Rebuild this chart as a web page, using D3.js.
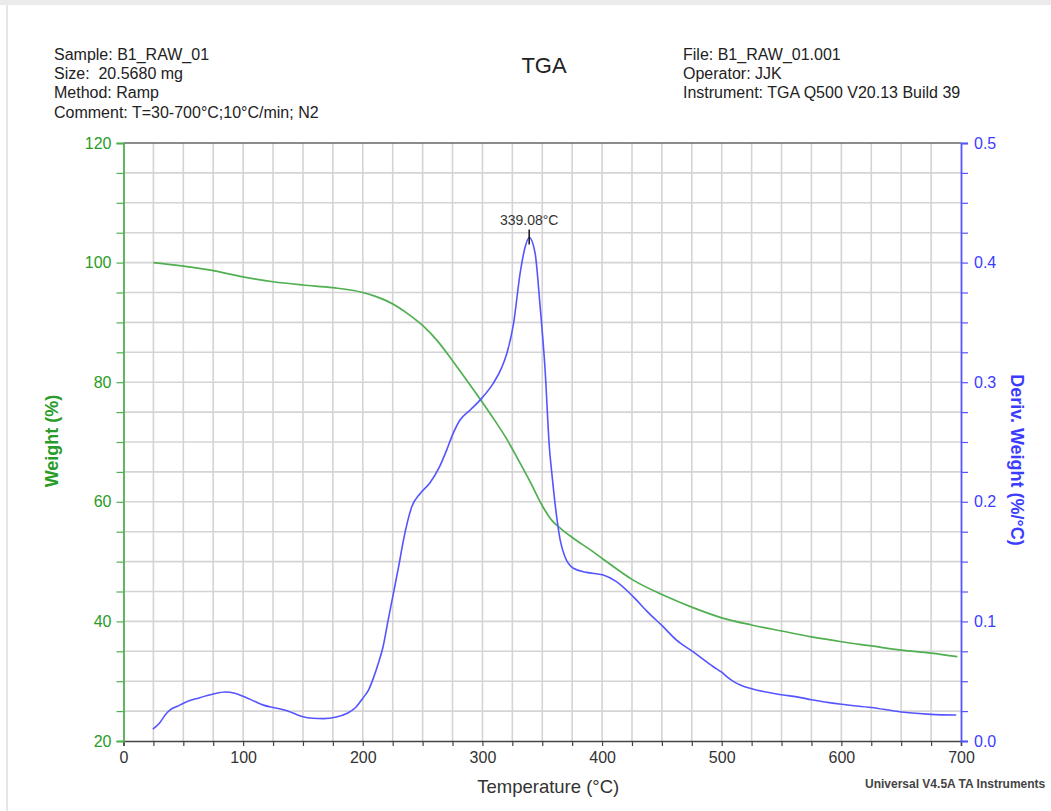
<!DOCTYPE html>
<html>
<head>
<meta charset="utf-8">
<script src="https://cdn.jsdelivr.net/npm/d3@7"></script>
<style>
  html, body { margin: 0; padding: 0; background: #fff; }
  svg { display: block; font-family: "Liberation Sans", Arial, sans-serif; }
  text { white-space: pre; }
</style>
</head>
<body>
<svg id="chart" width="1051" height="811"></svg>
<script>
// ---- data ----
const headerLeft = ["Sample: B1_RAW_01", "Size:  20.5680 mg", "Method: Ramp", "Comment: T=30-700°C;10°C/min; N2"];
const headerRight = ["File: B1_RAW_01.001", "Operator: JJK", "Instrument: TGA Q500 V20.13 Build 39"];
const chartTitle = "TGA";
const footer = "Universal V4.5A TA Instruments";

const weightTemp = [25, 50, 75, 100, 125, 150, 175, 200, 210, 220, 230, 240, 250, 262, 275, 287, 298, 310, 320, 330, 340, 351, 358, 365, 376, 390, 401, 426, 451, 476, 500, 525, 550, 575, 600, 625, 650, 675, 697];
const weightPct  = [100, 99.4, 98.65, 97.6, 96.8, 96.25, 95.8, 95.0, 94.4, 93.6, 92.5, 91.1, 89.5, 87.0, 83.6, 80.3, 77.2, 73.7, 70.6, 67.0, 63.3, 59.0, 56.9, 55.6, 53.9, 52.0, 50.4, 46.9, 44.4, 42.3, 40.6, 39.4, 38.4, 37.4, 36.6, 35.9, 35.2, 34.7, 34.1];

const derivTemp = [24.5, 30, 35, 39, 45, 51, 63, 75, 85, 93, 101, 110, 117, 125, 132, 139, 145, 150, 158, 167, 177, 187, 194, 200, 205, 209, 213, 217, 221, 225.6, 230, 234, 241, 248, 256, 264, 270, 275, 281, 290, 298, 309, 316, 320.4, 326, 331.5, 335.7, 339.08, 344, 348, 352.4, 356, 358, 361, 365, 369, 376, 387, 401, 412, 426, 438, 451, 462, 476, 493, 500, 505, 510, 516, 525, 550, 565, 575, 600, 625, 650, 675, 696];
const derivVal  = [0.010, 0.0148, 0.022, 0.026, 0.029, 0.032, 0.036, 0.0393, 0.041, 0.040, 0.037, 0.033, 0.030, 0.028, 0.0265, 0.0245, 0.022, 0.0203, 0.019, 0.0187, 0.0198, 0.0232, 0.028, 0.0357, 0.043, 0.053, 0.065, 0.079, 0.100, 0.1235, 0.146, 0.168, 0.196, 0.207, 0.2157, 0.229, 0.243, 0.256, 0.268, 0.277, 0.285, 0.299, 0.312, 0.324, 0.349, 0.391, 0.413, 0.421, 0.408, 0.366, 0.310, 0.245, 0.224, 0.196, 0.168, 0.154, 0.1444, 0.141, 0.1388, 0.1333, 0.1207, 0.108, 0.0956, 0.0845, 0.0747, 0.0621, 0.0575, 0.0532, 0.0497, 0.0467, 0.0437, 0.0387, 0.0365, 0.0345, 0.0307, 0.0280, 0.0243, 0.0223, 0.0217];

const peakTemp = 339.08;
const peakVal = 0.421;
const peakLabel = "339.08°C";

const xTickLabels = [0, 100, 200, 300, 400, 500, 600, 700];
const yLeftTickLabels = [20, 40, 60, 80, 100, 120];
const yRightTickLabels = [0.0, 0.1, 0.2, 0.3, 0.4, 0.5];

// ---- layout ----
const svg = d3.select("#chart");
const W = 1051, H = 811;
const plot = { left: 123.5, right: 961, top: 143, bottom: 741 };

const green = "rgb(80,175,80)";
const greenText = "rgb(40,155,40)";
const blue = "rgb(85,85,255)";
const blueText = "rgb(60,60,255)";

// frame
svg.append("rect").attr("x", 0).attr("y", 0).attr("width", W).attr("height", H).attr("fill", "#fff");
svg.append("rect").attr("x", 0).attr("y", 0).attr("width", W).attr("height", 5).attr("fill", "#ebebeb");
svg.append("line").attr("x1", 7).attr("x2", 7).attr("y1", 5).attr("y2", H).attr("stroke", "#e6e6e6").attr("stroke-width", 2);

const x = d3.scaleLinear().domain([0, 700]).range([plot.left, plot.right]);
const yL = d3.scaleLinear().domain([20, 120]).range([plot.bottom, plot.top]);
const yR = d3.scaleLinear().domain([0, 0.5]).range([plot.bottom, plot.top]);

const xMinor = d3.range(0, 701, 25);
const yLMinor = d3.range(20, 121, 5);
const yRMinor = d3.range(0, 0.5001, 0.025);

// grid
const grid = svg.append("g").attr("stroke", "#d4d4d4").attr("stroke-width", 1.6);
xMinor.filter(v => v > 0 && v < 700).forEach(v => {
  grid.append("line").attr("x1", x(v)).attr("x2", x(v)).attr("y1", plot.top).attr("y2", plot.bottom);
});
yLMinor.filter(v => v > 20 && v < 120).forEach(v => {
  grid.append("line").attr("x1", plot.left).attr("x2", plot.right).attr("y1", yL(v)).attr("y2", yL(v));
});

// top border
svg.append("line").attr("x1", plot.left).attr("x2", plot.right).attr("y1", plot.top).attr("y2", plot.top)
  .attr("stroke", "#666").attr("stroke-width", 1.5);

// x axis
const xAxis = d3.axisBottom(x).tickValues(xMinor).tickSize(5).tickPadding(6)
  .tickFormat(d => xTickLabels.includes(d) ? String(d) : "");
const gx = svg.append("g").attr("transform", `translate(0,${plot.bottom})`).call(xAxis);
gx.select(".domain").attr("stroke", "#444").attr("stroke-width", 1.5);
gx.selectAll(".tick line").attr("stroke", "#444").attr("stroke-width", 1.2);
gx.selectAll(".tick text").attr("fill", "#333").attr("font-size", 16).attr("font-family", "Liberation Sans, Arial, sans-serif");

// left axis
const yLAxis = d3.axisLeft(yL).tickValues(yLMinor).tickSize(7).tickPadding(5)
  .tickFormat(d => yLeftTickLabels.includes(d) ? String(d) : "");
const gyl = svg.append("g").attr("transform", `translate(${plot.left},0)`).call(yLAxis);
gyl.select(".domain").attr("stroke", green).attr("stroke-width", 1.8);
gyl.selectAll(".tick line").attr("stroke", green).attr("stroke-width", 1.2);
gyl.selectAll(".tick text").attr("fill", greenText).attr("font-size", 16).attr("font-family", "Liberation Sans, Arial, sans-serif");

// right axis
const yRAxis = d3.axisRight(yR).tickValues(yRMinor).tickSize(7).tickPadding(6)
  .tickFormat(d => yRightTickLabels.some(v => Math.abs(v - d) < 1e-9) ? d3.format(".1f")(d) : "");
const gyr = svg.append("g").attr("transform", `translate(${plot.right},0)`).call(yRAxis);
gyr.select(".domain").attr("stroke", blue).attr("stroke-width", 1.8);
gyr.selectAll(".tick line").attr("stroke", blue).attr("stroke-width", 1.2);
gyr.selectAll(".tick text").attr("fill", blueText).attr("font-size", 16).attr("font-family", "Liberation Sans, Arial, sans-serif");

// curves
const weightData = weightTemp.map((t, i) => [t, weightPct[i]]);
const derivData = derivTemp.map((t, i) => [t, derivVal[i]]);

svg.append("path").datum(weightData)
  .attr("d", d3.line().x(d => x(d[0])).y(d => yL(d[1])).curve(d3.curveMonotoneX))
  .attr("fill", "none").attr("stroke", green).attr("stroke-width", 1.7);

svg.append("path").datum(derivData)
  .attr("d", d3.line().x(d => x(d[0])).y(d => yR(d[1])).curve(d3.curveMonotoneX))
  .attr("fill", "none").attr("stroke", blue).attr("stroke-width", 1.6);

// peak annotation
svg.append("line").attr("x1", x(peakTemp)).attr("x2", x(peakTemp))
  .attr("y1", yR(peakVal) - 8).attr("y2", yR(peakVal) + 7)
  .attr("stroke", "#111").attr("stroke-width", 1.5);
svg.append("text").attr("x", x(peakTemp)).attr("y", yR(peakVal) - 12)
  .attr("text-anchor", "middle").attr("font-size", 14).attr("fill", "#333").text(peakLabel);

// headers
const hdrY = [60, 79, 98, 118];
headerLeft.forEach((t, i) => {
  svg.append("text").attr("x", 54).attr("y", hdrY[i]).attr("font-size", 16).attr("fill", "#222")
    .attr("xml:space", "preserve").text(t);
});
headerRight.forEach((t, i) => {
  svg.append("text").attr("x", 683).attr("y", hdrY[i]).attr("font-size", 16).attr("fill", "#222").text(t);
});
svg.append("text").attr("x", 544).attr("y", 73).attr("text-anchor", "middle")
  .attr("font-size", 22).attr("fill", "#222").text(chartTitle);

// axis titles
svg.append("text").attr("x", (plot.left + plot.right) / 2 + 6).attr("y", 793).attr("text-anchor", "middle")
  .attr("font-size", 18.5).attr("fill", "#333").text("Temperature (°C)");
svg.append("text").attr("transform", `translate(58,441) rotate(-90)`).attr("text-anchor", "middle")
  .attr("font-size", 18).attr("font-weight", "bold").attr("fill", greenText).text("Weight (%)");
svg.append("text").attr("transform", `translate(1011,460) rotate(90)`).attr("text-anchor", "middle")
  .attr("font-size", 18).attr("font-weight", "bold").attr("fill", blueText).text("Deriv. Weight (%/°C)");

svg.append("text").attr("x", 865).attr("y", 788).attr("font-size", 12).attr("font-weight", "bold")
  .attr("fill", "#444").text(footer);
</script>
</body>
</html>
